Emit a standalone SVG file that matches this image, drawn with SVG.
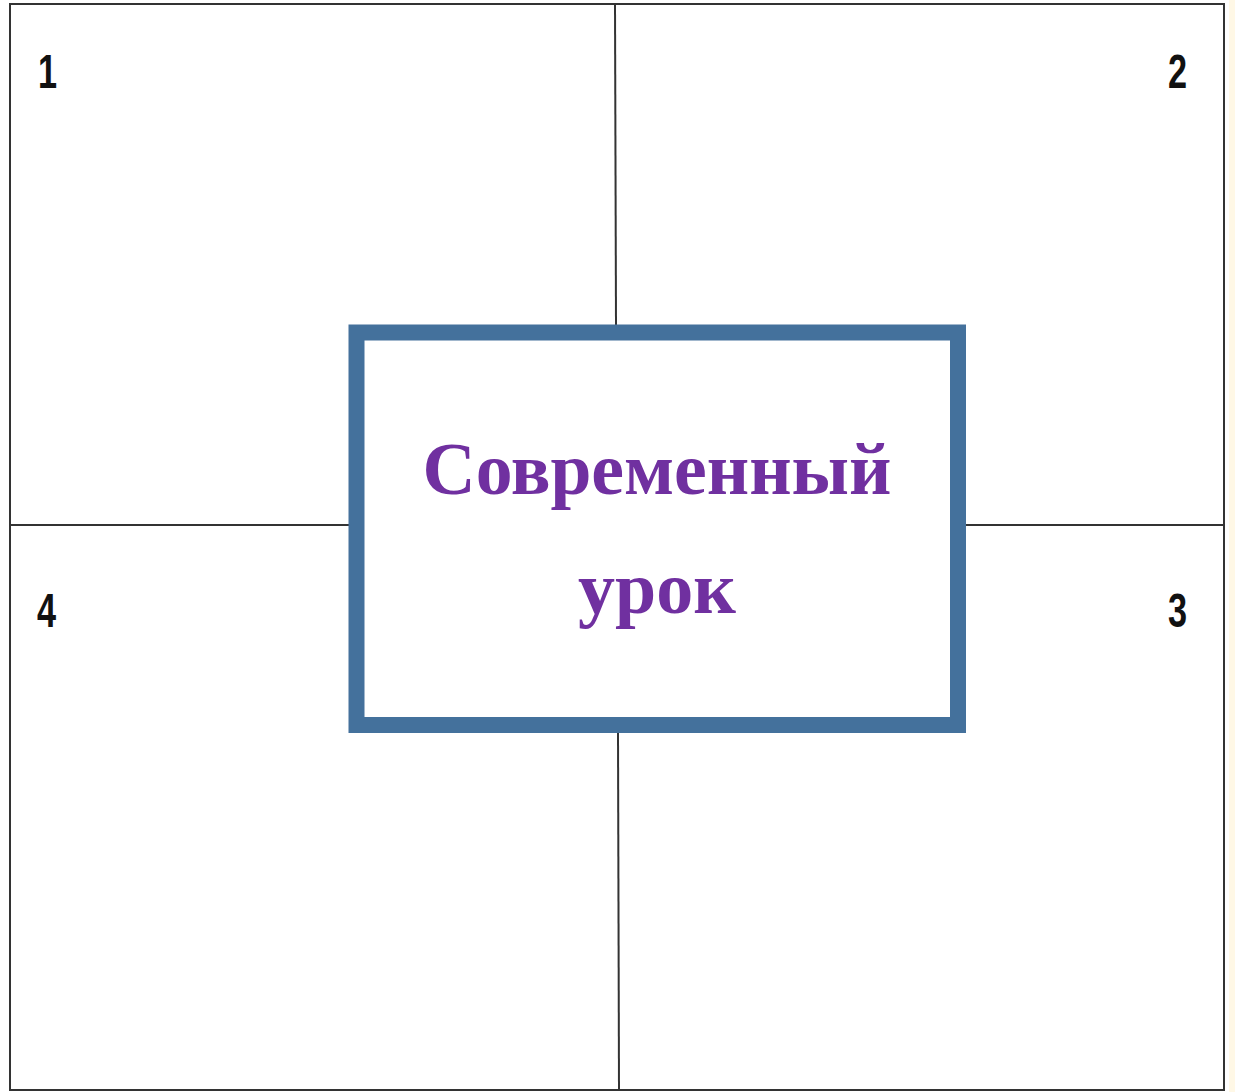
<svg xmlns="http://www.w3.org/2000/svg" width="1235" height="1092" viewBox="0 0 1235 1092">
<style>
.ln{stroke:#333;stroke-width:2;fill:none}
.num{font-family:"Liberation Sans",Arial,sans-serif;font-weight:bold;font-size:49px;fill:#111}
.title{font-family:"Liberation Serif","Times New Roman",serif;font-weight:bold;font-size:74px;fill:#7030A0;text-anchor:middle}
</style>
<rect x="0" y="0" width="1235" height="1092" fill="#fff"/>
<rect x="1229" y="0" width="6" height="1092" fill="#FFF8E6"/>
<g id="frame">
<rect x="10" y="4" width="1214" height="1086" class="ln" stroke-width="2.5"/>
</g>
<g id="connectors">
<line x1="615" y1="4" x2="616" y2="325" class="ln"/>
<line x1="618" y1="733" x2="619" y2="1090" class="ln"/>
<line x1="10" y1="525" x2="349" y2="525" class="ln"/>
<line x1="965" y1="525" x2="1224" y2="525" class="ln"/>
</g>
<g id="n1"><text class="num" transform="translate(38,88) scale(0.7,1)">1</text></g>
<g id="n2"><text class="num" transform="translate(1168,88) scale(0.7,1)">2</text></g>
<g id="n3"><text class="num" transform="translate(1168,627) scale(0.7,1)">3</text></g>
<g id="n4"><text class="num" transform="translate(37,627) scale(0.7,1)">4</text></g>
<g id="center">
<rect x="356.5" y="332.5" width="601.5" height="392.5" fill="#fff" stroke="#44719C" stroke-width="16"/>
<text class="title" x="657" y="494" textLength="469" lengthAdjust="spacingAndGlyphs">Современный</text>
<text class="title" x="657" y="613">урок</text>
</g>
</svg>
